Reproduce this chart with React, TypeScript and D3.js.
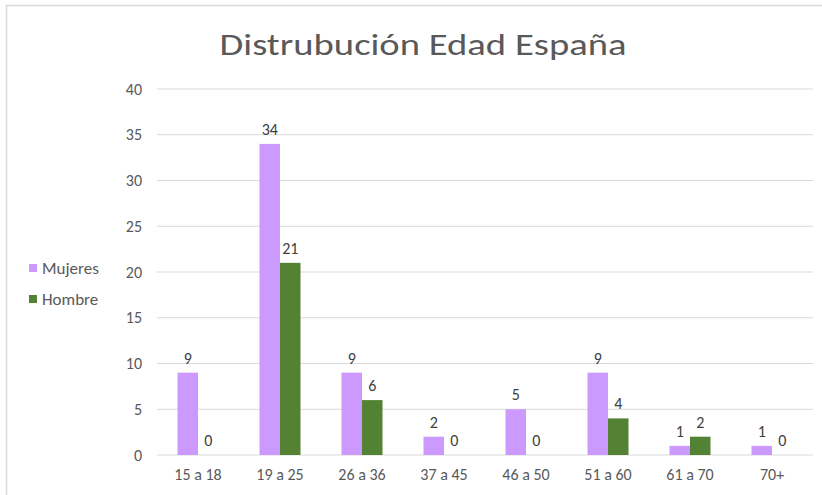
import React from "react";
import * as d3 from "d3";

const categories = ["15 a 18", "19 a 25", "26 a 36", "37 a 45", "46 a 50", "51 a 60", "61 a 70", "70+"];
const mujeres = [9, 34, 9, 2, 5, 9, 1, 1];
const hombre = [0, 21, 6, 0, 0, 4, 2, 0];
const seriesNames = ["Mujeres", "Hombre"];
const yTicks = [0, 5, 10, 15, 20, 25, 30, 35, 40];
const title = "Distrubución Edad España";

const W = 822, H = 495;
const colors = ["#cc99ff", "#548235"];
const font = "Carlito, 'Open Sans', 'Noto Sans', sans-serif";

export default function App() {
  const x = d3.scaleBand<string>().domain(categories).range([157, 813]).paddingInner(0.5).paddingOuter(0.25);
  const y = d3.scaleLinear().domain([0, 40]).range([455, 89]);
  const sub = d3.scaleBand<number>().domain([0, 1]).range([0, x.bandwidth()]);
  const series = [mujeres, hombre];
  return (
    <svg width={W} height={H} style={{ position: "absolute", left: 0, top: 0, background: "#fff" }} fontFamily={font}>
      <rect x={0} y={0} width={W} height={H} fill="#fff" />
      <line x1={6.5} x2={6.5} y1={5} y2={H} stroke="#d9d9d9" strokeWidth={1.5} />
      <line x1={6} x2={W} y1={5.5} y2={5.5} stroke="#d9d9d9" strokeWidth={1.5} />
      <text x={423} y={55} textAnchor="middle" fontSize={31} fill="#595959" textLength={407} lengthAdjust="spacingAndGlyphs">{title}</text>
      {yTicks.map((t) => (
        <g key={t}>
          <line x1={157} x2={813} y1={y(t)} y2={y(t)} stroke="#d9d9d9" strokeWidth={1} />
          <text x={142} y={y(t)} dy="0.35em" textAnchor="end" fontSize={16} fill="#595959">{t}</text>
        </g>
      ))}
      {categories.map((c, i) => (
        <g key={c}>
          {series.map((s, j) => {
            const bx = (x(c) as number) + (sub(j) as number);
            return (
              <g key={j}>
                <rect x={bx} y={y(s[i])} width={sub.bandwidth()} height={y(0) - y(s[i])} fill={colors[j]} />
                <text x={bx + sub.bandwidth() / 2} y={y(s[i]) - 9} textAnchor="middle" fontSize={16} fill="#404040">{s[i]}</text>
              </g>
            );
          })}
          <text x={(x(c) as number) + x.bandwidth() / 2} y={480} textAnchor="middle" fontSize={16} fill="#595959">{c}</text>
        </g>
      ))}
      {seriesNames.map((n, j) => (
        <g key={n}>
          <rect x={29} y={264 + j * 31} width={8} height={8} fill={colors[j]} />
          <text x={42} y={268 + j * 31} dy="0.35em" fontSize={17} fill="#595959">{n}</text>
        </g>
      ))}
    </svg>
  );
}
